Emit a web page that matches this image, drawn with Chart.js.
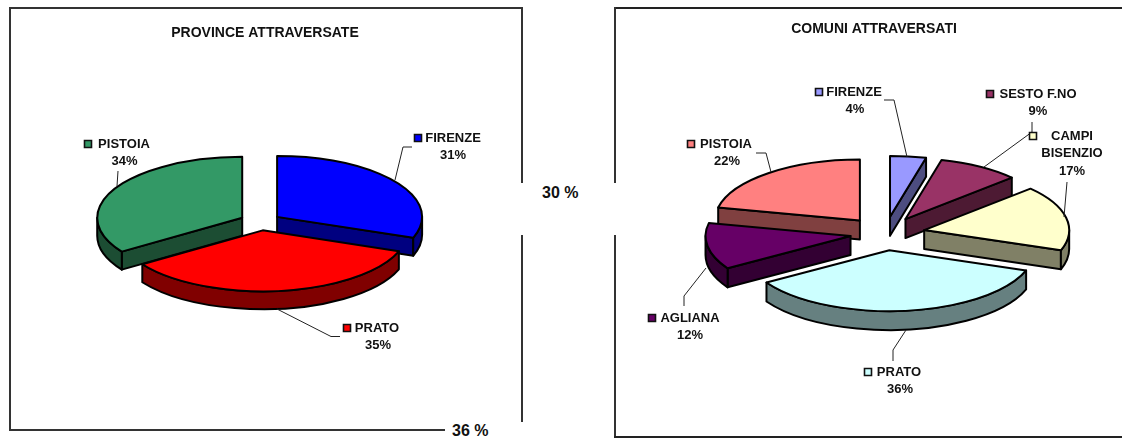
<!DOCTYPE html>
<html>
<head>
<meta charset="utf-8">
<script src="https://cdn.jsdelivr.net/npm/chart.js@4"></script>
<style>
html,body{margin:0;padding:0;background:#fff;width:1122px;height:438px;overflow:hidden}
body{position:relative;font-family:"Liberation Sans",Arial,sans-serif}
.ln{position:absolute;background:#333}
.note{position:absolute;font:bold 16px "Liberation Sans",Arial,sans-serif;color:#111;white-space:nowrap}
canvas{position:absolute;top:0}
</style>
</head>
<body>
<div class="ln" style="left:9px;top:7px;width:514px;height:2px"></div>
<div class="ln" style="left:9px;top:7px;width:2px;height:424px"></div>
<div class="ln" style="left:9px;top:429px;width:436px;height:2px"></div>
<div class="ln" style="left:521px;top:7px;width:2px;height:176px"></div>
<div class="ln" style="left:521px;top:235px;width:2px;height:187px"></div>
<div class="ln" style="left:614px;top:7px;width:508px;height:2px;background:#222"></div>
<div class="ln" style="left:614px;top:7px;width:2px;height:176px"></div>
<div class="ln" style="left:614px;top:235px;width:2px;height:203px"></div>
<div class="ln" style="left:614px;top:436px;width:508px;height:2px;background:#222"></div>
<div class="note" style="left:542px;top:184px">30 %</div>
<div class="note" style="left:452px;top:422px">36 %</div>
<canvas id="left" style="left:0;width:530px;height:438px"></canvas>
<canvas id="right" style="left:626px;width:496px;height:438px"></canvas>
<script>
// ---------- data ----------
const provinceTitle = 'PROVINCE ATTRAVERSATE';
const provinceNames = ['FIRENZE', 'PRATO', 'PISTOIA'];
const provinceValues = [30.6, 35.0, 34.4];
const provinceTop = ['#0000FF', '#FF0000', '#339966'];
const provinceWall = ['#000080', '#800000', '#1C4D33'];

const comuniTitle = 'COMUNI ATTRAVERSATI';
const comuniNames = ['FIRENZE', 'SESTO F.NO', 'CAMPI BISENZIO', 'PRATO', 'AGLIANA', 'PISTOIA'];
const comuniValues = [4.0, 9.1, 17.3, 35.7, 12.3, 21.6];
const comuniTop = ['#9999FF', '#993366', '#FFFFCC', '#CCFFFF', '#660066', '#FF8080'];
const comuniWall = ['#4D4D80', '#4D1A33', '#808066', '#668080', '#330033', '#804040'];

// ---------- layout (page pixels) ----------
const provinceScene = {
  originX: 0, center: [260.3, 221.8], tilt: 0.42, depth: 18, explode: [20.5, 20.5, 20.5],
  labels: [
    {key: [418, 138], lines: [['FIRENZE', 453, 138]], pct: [453, 155], leader: [[412,147],[403,147],[395,180]]},
    {key: [347, 328], lines: [['PRATO', 377, 328]], pct: [378, 345], leader: [[340,336.5],[331,336.5],[277,309]]},
    {key: [88, 144],  lines: [['PISTOIA', 124, 144]], pct: [124.5, 161], leader: [[118,171],[117,186]]}
  ]
};
const comuniScene = {
  originX: 626, center: [885, 233.5], tilt: 0.42, depth: 19, explode: [40, 40, 40, 40, 35, 40],
  labels: [
    {key: [819, 92],  lines: [['FIRENZE', 854, 92]], pct: [855, 109], leader: [[884,100],[894,100],[907,157]]},
    {key: [990, 94],  lines: [['SESTO F.NO', 1038, 94]], pct: [1038, 111], leader: [[1032,122],[1032,132],[984,167]]},
    {key: [1033, 136], lines: [['CAMPI', 1072, 136], ['BISENZIO', 1072, 153]], pct: [1072, 171], leader: [[1067,182],[1064,217]]},
    {key: [868, 372], lines: [['PRATO', 899, 372]], pct: [900, 389], leader: [[893,361],[893,350],[906,330]]},
    {key: [652, 318], lines: [['AGLIANA', 690, 318]], pct: [690, 335], leader: [[684,306],[684,296],[706,268]]},
    {key: [691, 144], lines: [['PISTOIA', 726, 144]], pct: [727, 161], leader: [[756,153],[766,153],[771,172]]}
  ]
};

const LABEL_FONT = 'bold 13px "Liberation Sans", Arial, sans-serif';
const INK = '#111';

// Draws the library's arc elements as tilted, extruded, exploded slices.
const tiltedPie = {
  id: 'tiltedPie',
  beforeDatasetsDraw(chart, args, opts) {
    const s = opts.scene, ctx = chart.ctx, meta = chart.getDatasetMeta(0);
    const ds = chart.data.datasets[0];
    const [cx, cy] = [s.center[0] - s.originX, s.center[1]];
    const order = meta.data.map((a, i) => i).sort((p, q) => {
      const m = i => (meta.data[i].startAngle + meta.data[i].endAngle) / 2;
      return Math.sin(m(p)) - Math.sin(m(q));
    });
    ctx.save();
    ctx.lineJoin = 'round';
    ctx.strokeStyle = '#000';
    ctx.lineWidth = 2;
    for (const i of order) {
      const arc = meta.data[i], a0 = arc.startAngle, a1 = arc.endAngle, r = arc.outerRadius;
      const mid = (a0 + a1) / 2, k = s.tilt, d = s.depth;
      const tx = cx + Math.cos(mid) * s.explode[i], ty = cy + Math.sin(mid) * s.explode[i] * k;
      const px = a => tx + Math.cos(a) * r, py = a => ty + Math.sin(a) * r * k;
      const wall = ds.wallColor[i], top = ds.backgroundColor[i];
      const quad = a => {
        ctx.beginPath();
        ctx.moveTo(tx, ty); ctx.lineTo(px(a), py(a));
        ctx.lineTo(px(a), py(a) + d); ctx.lineTo(tx, ty + d); ctx.closePath();
        ctx.fillStyle = wall; ctx.fill(); ctx.stroke();
      };
      // radial walls facing the viewer
      if (Math.sin(a0 - Math.PI / 2) > 0) quad(a0);
      if (Math.sin(a1 + Math.PI / 2) > 0) quad(a1);
      // rim: the part of the arc on the near half of the ellipse
      const TAU = Math.PI * 2;
      for (const shift of [0, TAU]) {
        const from = Math.max(a0, shift), to = Math.min(a1, shift + Math.PI);
        if (to > from) {
          ctx.beginPath();
          ctx.ellipse(tx, ty, r, r * k, 0, from, to);
          ctx.ellipse(tx, ty + d, r, r * k, 0, to, from, true);
          ctx.closePath();
          ctx.fillStyle = wall; ctx.fill(); ctx.stroke();
        }
      }
      // top face
      ctx.beginPath();
      ctx.moveTo(tx, ty);
      ctx.ellipse(tx, ty, r, r * k, 0, a0, a1);
      ctx.closePath();
      ctx.fillStyle = top; ctx.fill(); ctx.stroke();
    }
    ctx.restore();
    return false;
  },
  afterDraw(chart, args, opts) {
    const s = opts.scene, ctx = chart.ctx, o = s.originX;
    const ds = chart.data.datasets[0];
    const total = ds.data.reduce((a, b) => a + b, 0);
    ctx.save();
    ctx.font = LABEL_FONT;
    ctx.textBaseline = 'middle';
    ctx.textAlign = 'center';
    // leaders first, keys and text above them
    ctx.strokeStyle = '#222'; ctx.lineWidth = 1;
    for (const l of s.labels) {
      ctx.beginPath();
      l.leader.forEach((p, j) => j ? ctx.lineTo(p[0] - o, p[1]) : ctx.moveTo(p[0] - o, p[1]));
      ctx.stroke();
    }
    s.labels.forEach((l, i) => {
      ctx.fillStyle = ds.backgroundColor[i];
      ctx.strokeStyle = '#111'; ctx.lineWidth = 1.6;
      ctx.beginPath();
      ctx.rect(l.key[0] - o - 3.5, l.key[1] - 3.5, 7, 7);
      ctx.fill(); ctx.stroke();
      ctx.fillStyle = INK;
      for (const t of l.lines) ctx.fillText(t[0], t[1] - o, t[2]);
      ctx.fillText(Math.round(ds.data[i] / total * 100) + '%', l.pct[0] - o, l.pct[1]);
    });
    ctx.restore();
  }
};

function makePie(id, title, names, values, tops, walls, scene, titlePad) {
  return new Chart(document.getElementById(id), {
    type: 'pie',
    plugins: [tiltedPie],
    data: {
      labels: names,
      datasets: [{data: values, backgroundColor: tops, wallColor: walls, borderWidth: 0}]
    },
    options: {
      responsive: false,
      animation: false,
      radius: 145,
      layout: {padding: 0},
      events: [],
      plugins: {
        legend: {display: false},
        tooltip: {enabled: false},
        title: {
          display: true, text: title, color: INK,
          font: {family: '"Liberation Sans", Arial, sans-serif', size: 14, weight: 'bold'},
          padding: titlePad
        },
        tiltedPie: {scene}
      }
    }
  });
}
function sizeCanvas(id, w, h) { const c = document.getElementById(id); c.width = w; c.height = h; }
sizeCanvas('left', 530, 438);
sizeCanvas('right', 496, 438);
makePie('left', provinceTitle, provinceNames, provinceValues, provinceTop, provinceWall, provinceScene, {top: 25, bottom: 4});
makePie('right', comuniTitle, comuniNames, comuniValues, comuniTop, comuniWall, comuniScene, {top: 21, bottom: 4});
</script>
</body>
</html>
